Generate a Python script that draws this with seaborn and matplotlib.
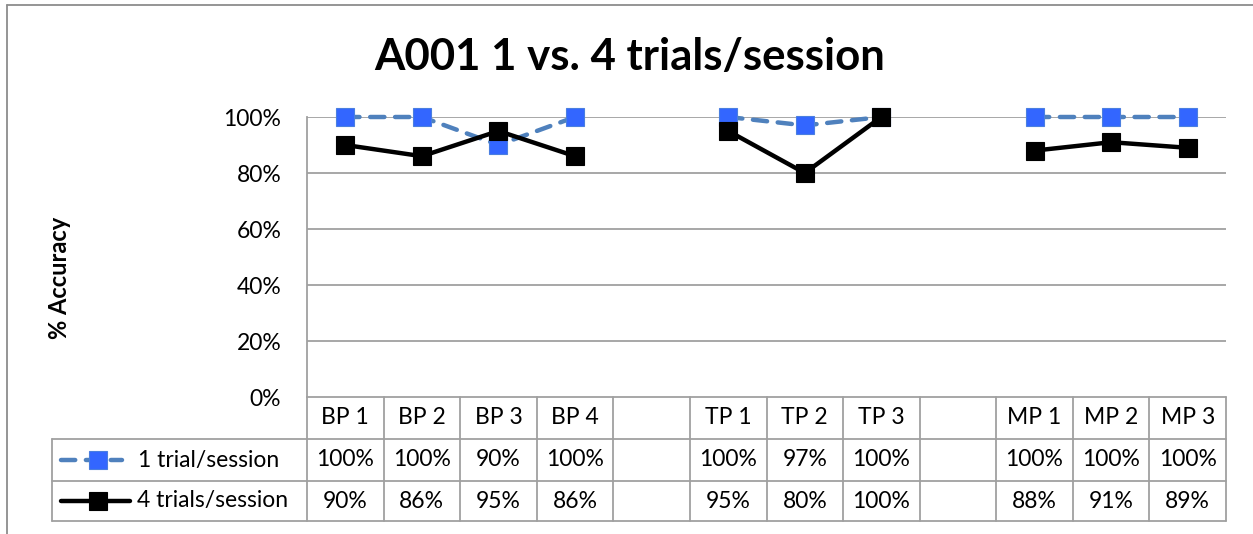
import numpy as np
import pandas as pd
import matplotlib
matplotlib.use("Agg")
import matplotlib.pyplot as plt
from matplotlib.lines import Line2D
from matplotlib.transforms import blended_transform_factory
import seaborn as sns

categories = ["BP 1", "BP 2", "BP 3", "BP 4", "", "TP 1", "TP 2", "TP 3", "", "MP 1", "MP 2", "MP 3"]
groups = ["BP", "BP", "BP", "BP", None, "TP", "TP", "TP", None, "MP", "MP", "MP"]
series_names = ["1 trial/session", "4 trials/session"]
one_trial = [100, 100, 90, 100, np.nan, 100, 97, 100, np.nan, 100, 100, 100]
four_trials = [90, 86, 95, 86, np.nan, 95, 80, 100, np.nan, 88, 91, 89]
yticks = [0, 20, 40, 60, 80, 100]

sns.set_theme(style="white")
plt.rcParams["font.family"] = ["Lato", "DejaVu Sans"]
plt.rcParams["text.color"] = "black"
plt.rcParams["ytick.color"] = "black"
plt.rcParams["axes.labelcolor"] = "black"

W, H = 1253, 534
fig = plt.figure(figsize=(W / 100, H / 100), dpi=100)
x0, x1, ytop, ybot = 307, 1226, 117, 397
ax = fig.add_axes([x0 / W, 1 - ybot / H, (x1 - x0) / W, (ybot - ytop) / H])

rows = []
for i, (c, g) in enumerate(zip(categories, groups)):
    if g is None:
        continue
    rows.append({"pos": i, "val": one_trial[i], "series": series_names[0], "grp": g})
    rows.append({"pos": i, "val": four_trials[i], "series": series_names[1], "grp": g})
df = pd.DataFrame(rows)

blue_line = "#4F81BD"
blue_mk = "#3366FF"
styles = {
    series_names[0]: dict(color=blue_line, linestyle=(0, (3.2, 2.4)), linewidth=3.2,
                          marker="s", markersize=12.5, markerfacecolor=blue_mk,
                          markeredgecolor="#4a7fe0", markeredgewidth=0.8,
                          dash_capstyle="round"),
    series_names[1]: dict(color="black", linestyle="-", linewidth=3.2,
                          marker="s", markersize=12.5, markerfacecolor="black",
                          markeredgecolor="black", markeredgewidth=0.8),
}
for s in series_names:
    sub = df[df["series"] == s]
    sns.lineplot(data=sub, x="pos", y="val", units="grp", estimator=None, sort=False,
                 ax=ax, legend=False, clip_on=False, zorder=5, **styles[s])

fs = 16.5
ax.set_xlim(-0.5, len(categories) - 0.5)
ax.set_ylim(0, 100)
ax.set_yticks(yticks)
ax.set_yticklabels([f"{v}%" for v in yticks], fontsize=fs)
ax.tick_params(axis="y", length=0, pad=18.5)
ax.set_xticks([])
ax.set_xlabel("")
ax.set_ylabel("% Accuracy", fontsize=17, fontweight="bold", labelpad=0)
ax.yaxis.set_label_coords(-0.257, 0.425)
grid_c = "#A0A0A0"
for v in yticks[1:]:
    ax.axhline(v, color=grid_c, linewidth=1.3, zorder=1)
for sp in ["top", "right", "bottom"]:
    ax.spines[sp].set_visible(False)
ax.spines["left"].set_color(grid_c)
ax.spines["left"].set_linewidth(1.3)

# data table
ppa = 1.0 / (ybot - ytop)  # axes units per pixel (vertical)
y_hdr_bot = -(439 - ybot) * ppa
y_r1_bot = -(481 - ybot) * ppa
y_r2_bot = -(521 - ybot) * ppa
trans = blended_transform_factory(ax.transData, ax.transAxes)
tax = ax.transAxes
lw = 1.3
ncat = len(categories)

def px2ax(px):
    return (px - x0) / (x1 - x0)

left_ax = px2ax(52)
ax.plot([0, 1], [0, 0], transform=tax, color=grid_c, lw=lw, clip_on=False)
for yy in [y_hdr_bot, y_r1_bot, y_r2_bot]:
    ax.plot([left_ax, 1], [yy, yy], transform=tax, color=grid_c, lw=lw, clip_on=False)
for k in range(ncat + 1):
    ax.plot([k - 0.5, k - 0.5], [0, y_r2_bot], transform=trans, color=grid_c, lw=lw, clip_on=False)
ax.plot([left_ax, left_ax], [y_hdr_bot, y_r2_bot], transform=tax, color=grid_c, lw=lw, clip_on=False)

for i, c in enumerate(categories):
    ax.text(i, y_hdr_bot / 2, c, transform=trans, ha="center", va="center", fontsize=fs)
    for vals, (ya, yb) in [(one_trial, (y_hdr_bot, y_r1_bot)), (four_trials, (y_r1_bot, y_r2_bot))]:
        v = vals[i]
        if not np.isnan(v):
            ax.text(i, (ya + yb) / 2, f"{int(v)}%", transform=trans, ha="center", va="center", fontsize=fs)

for s, (ya, yb), (lx0, lx1, tx) in [
    (series_names[0], (y_hdr_bot, y_r1_bot), (61, 122, 138)),
    (series_names[1], (y_r1_bot, y_r2_bot), (61, 130, 137)),
]:
    ym = (ya + yb) / 2
    st = dict(styles[s])
    ln = Line2D([px2ax(lx0), px2ax(lx1)], [ym, ym], transform=tax, clip_on=False,
                **{k: v for k, v in st.items() if k not in ("marker", "markersize", "markerfacecolor", "markeredgecolor", "markeredgewidth")})
    ax.add_line(ln)
    mk = Line2D([px2ax(98)], [ym], transform=tax, clip_on=False, linestyle="none",
                marker="s", markersize=12.5, markerfacecolor=st["markerfacecolor"],
                markeredgecolor=st["markeredgecolor"], markeredgewidth=0.8)
    ax.add_line(mk)
    ax.text(px2ax(tx), ym, s, transform=tax, ha="left", va="center", fontsize=fs)

fig.text(630 / W, 1 - 57 / H, "A001 1 vs. 4 trials/session", ha="center", va="center",
         fontsize=31.5, fontweight="bold", color="black")

# outer chart border (top and left)
fig.add_artist(Line2D([7 / W, 1], [1 - 5 / H, 1 - 5 / H], transform=fig.transFigure, color="#8C8C8C", lw=1.3))
fig.add_artist(Line2D([7 / W, 7 / W], [0, 1 - 5 / H], transform=fig.transFigure, color="#8C8C8C", lw=1.3))

fig.savefig("out.png", dpi=100)
